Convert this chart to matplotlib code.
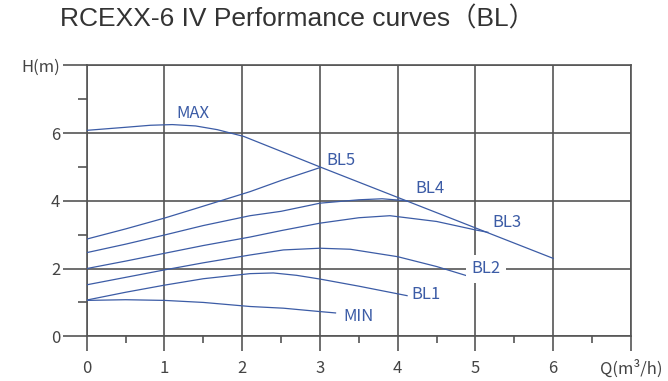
import matplotlib

matplotlib.use("Agg")
import matplotlib.pyplot as plt
from matplotlib.ticker import FixedLocator

# curve points (Q in m3/h, H in m)
max_q = [0, 0.5, 0.82, 1.1, 1.4, 1.68, 2.02, 2.5, 3.0, 4.0, 5.0, 6.0]
max_h = [6.08, 6.17, 6.23, 6.25, 6.21, 6.1, 5.9, 5.46, 5.0, 4.1, 3.2, 2.3]

bl5_q = [0, 0.5, 1.0, 1.37, 2.1, 2.5, 3.0]
bl5_h = [2.87, 3.17, 3.49, 3.75, 4.27, 4.6, 4.98]

bl4_q = [0, 0.5, 1.0, 1.5, 2.1, 2.5, 3.0, 3.5, 3.8, 4.12]
bl4_h = [2.47, 2.72, 2.99, 3.27, 3.56, 3.69, 3.93, 4.03, 4.06, 4.0]

bl3_q = [0, 0.5, 1.0, 1.5, 2.1, 2.5, 3.0, 3.5, 3.9, 4.5, 5.0, 5.16]
bl3_h = [2.0, 2.22, 2.45, 2.68, 2.93, 3.12, 3.34, 3.5, 3.56, 3.39, 3.14, 3.07]

bl2_q = [0, 0.5, 1.0, 1.5, 2.1, 2.53, 3.0, 3.39, 4.0, 4.5, 5.0]
bl2_h = [1.52, 1.74, 1.96, 2.17, 2.4, 2.55, 2.6, 2.57, 2.35, 2.06, 1.71]

bl1_q = [0, 0.5, 1.0, 1.5, 2.1, 2.4, 2.7, 3.0, 3.5, 4.12]
bl1_h = [1.07, 1.3, 1.51, 1.7, 1.85, 1.87, 1.8, 1.69, 1.48, 1.2]

min_q = [0, 0.5, 1.0, 1.5, 2.1, 2.53, 3.0, 3.2]
min_h = [1.06, 1.08, 1.06, 1.0, 0.88, 0.83, 0.73, 0.69]

curves = [
    ("MAX", max_q, max_h, (1.37, 6.57)),
    ("BL5", bl5_q, bl5_h, (3.27, 5.19)),
    ("BL4", bl4_q, bl4_h, (4.42, 4.37)),
    ("BL3", bl3_q, bl3_h, (5.4, 3.36)),
    ("BL2", bl2_q, bl2_h, (5.14, 2.0)),
    ("BL1", bl1_q, bl1_h, (4.36, 1.22)),
    ("MIN", min_q, min_h, (3.5, 0.58)),
]

x_ticks = [0, 1, 2, 3, 4, 5, 6, 7]
x_labels = ["0", "1", "2", "3", "4", "5", "6", "Q(m³/h)"]
y_ticks = [0, 2, 4, 6, 8]
y_labels = ["0", "2", "4", "6", "H(m)"]

LINE = "#3c5ca6"
GRID = "#555555"
TEXT = "#444444"
CJK = ["Noto Sans CJK SC", "DejaVu Sans"]

plt.rcParams["font.family"] = CJK

fig = plt.figure(figsize=(6.68, 3.81), dpi=100)
ax = fig.add_axes([0.1298, 0.1173, 0.8148, 0.7113])

for name, q, h, (lx, ly) in curves:
    ax.plot(q, h, color=LINE, linewidth=0.9, zorder=3)
    # the BL2 label sits on the H=2 grid line, which is blanked behind it
    bbox = dict(facecolor="white", edgecolor="none", pad=4) if name == "BL2" else None
    ax.text(lx, ly, name, color=LINE, fontsize=12, ha="center", va="center",
            bbox=bbox, zorder=4)

ax.set_xlim(0, 7)
ax.set_ylim(0, 8)
ax.set_xticks(x_ticks)
ax.set_xticklabels(x_labels)
ax.set_yticks(y_ticks)
ax.set_yticklabels(y_labels)
ax.xaxis.set_minor_locator(FixedLocator([0.5, 1.5, 2.5, 3.5, 4.5, 5.5, 6.5]))
ax.yaxis.set_minor_locator(FixedLocator([1, 3, 5, 7]))

ax.grid(True, which="major", color=GRID, linewidth=1.2, zorder=1)
for s in ax.spines.values():
    s.set_color(GRID)
    s.set_linewidth(1.2)

ax.tick_params(axis="x", which="major", length=11, width=1.2, color=GRID,
               labelsize=12, labelcolor=TEXT, pad=6)
ax.tick_params(axis="x", which="minor", length=5, width=1.2, color=GRID)
ax.tick_params(axis="y", which="major", length=17, width=1.2, color=GRID,
               labelsize=12, labelcolor=TEXT, pad=2)
ax.tick_params(axis="y", which="minor", length=6.5, width=1.2, color=GRID)

fig.text(0.4454, 0.93, "RCEXX-6 IV Performance curves（BL）", fontsize=19,
         color="#333333", ha="center", va="baseline",
         family=["Liberation Sans", "Noto Sans CJK SC"])

fig.savefig("out.png", dpi=100)
